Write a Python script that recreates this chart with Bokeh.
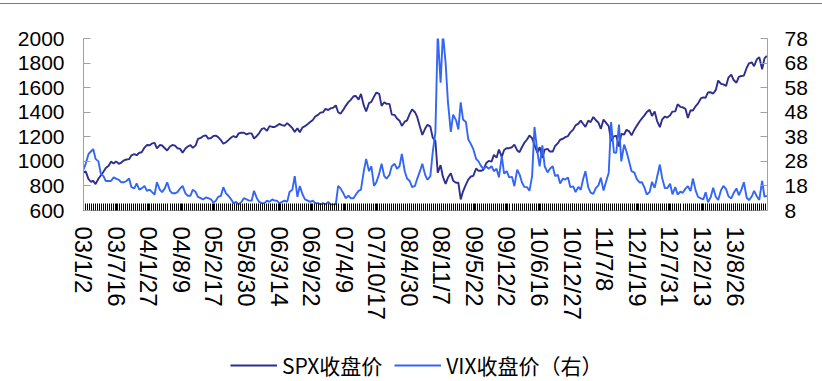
import pandas as pd
from bokeh.plotting import figure
from bokeh.layouts import column
from bokeh.models import Range1d, LinearAxis, FixedTicker, Legend, LegendItem, Div
from bokeh.embed import file_html
from bokeh.resources import INLINE

# ---------------- data ----------------
start = pd.Timestamp("2003-01-02")
end = pd.Timestamp("2014-03-05")

tick_dates = ["2003-01-02", "2003-07-16", "2004-01-27", "2004-08-09", "2005-02-17",
              "2005-08-30", "2006-03-14", "2006-09-22", "2007-04-09", "2007-10-17",
              "2008-04-30", "2008-11-07", "2009-05-22", "2009-12-02", "2010-06-16",
              "2010-12-27", "2011-07-08", "2012-01-19", "2012-07-31", "2013-02-13",
              "2013-08-26"]
tick_labels = ["03/1/2", "03/7/16", "04/1/27", "04/8/9", "05/2/17", "05/8/30", "06/3/14",
               "06/9/22", "07/4/9", "07/10/17", "08/4/30", "08/11/7", "09/5/22", "09/12/2",
               "10/6/16", "10/12/27", "11/7/8", "12/1/19", "12/7/31", "13/2/13", "13/8/26"]
spx_ticks = [600, 800, 1000, 1200, 1400, 1600, 1800, 2000]
vix_ticks = [8, 18, 28, 38, 48, 58, 68, 78]
series_names = ["SPX收盘价", "VIX收盘价（右）"]

# semi-monthly closes (1st and 15th of each month), 2003-01 .. 2014-03
spx = [
    909, 918, 856, 834, 841, 815, 858, 885, 916, 946, 964, 998, 983, 1000, 980, 990, 1008, 1015, 1018, 1049, 1058, 1050, 1070, 1074,
    1112, 1133, 1131, 1146, 1150, 1106, 1133, 1129, 1107, 1088, 1121, 1133, 1128, 1107, 1101, 1070, 1105, 1121, 1132, 1110, 1130, 1183, 1191, 1205,
    1212, 1185, 1190, 1206, 1210, 1197, 1172, 1143, 1156, 1173, 1194, 1206, 1194, 1227, 1234, 1233, 1220, 1228, 1228, 1186, 1207, 1230, 1265, 1270,
    1248, 1287, 1280, 1280, 1291, 1304, 1295, 1289, 1311, 1294, 1270, 1240, 1270, 1237, 1277, 1286, 1304, 1320, 1336, 1365, 1378, 1397, 1400, 1427,
    1418, 1431, 1438, 1456, 1400, 1388, 1421, 1452, 1482, 1501, 1530, 1532, 1503, 1549, 1455, 1406, 1474, 1484, 1527, 1560, 1549, 1452, 1481, 1468,
    1468, 1380, 1378, 1349, 1331, 1288, 1323, 1334, 1386, 1423, 1400, 1360, 1280, 1215, 1267, 1298, 1283, 1193, 1166, 907, 969, 873, 816, 868,
    903, 843, 826, 827, 690, 756, 811, 852, 877, 882, 942, 923, 923, 932, 987, 1004, 998, 1053, 1030, 1096, 1036, 1093, 1108, 1107,
    1115, 1136, 1089, 1075, 1115, 1150, 1178, 1211, 1187, 1135, 1070, 1115, 1027, 1096, 1102, 1080, 1080, 1125, 1146, 1176, 1184, 1197, 1206, 1236,
    1258, 1293, 1307, 1332, 1306, 1281, 1332, 1319, 1361, 1337, 1314, 1265, 1340, 1316, 1287, 1165, 1204, 1209, 1120, 1224, 1219, 1257, 1244, 1212,
    1258, 1289, 1324, 1350, 1374, 1402, 1419, 1370, 1405, 1330, 1278, 1342, 1365, 1356, 1375, 1405, 1407, 1465, 1444, 1440, 1427, 1353, 1416, 1413,
    1450, 1472, 1513, 1520, 1518, 1561, 1562, 1552, 1582, 1658, 1631, 1626, 1614, 1682, 1706, 1662, 1640, 1687, 1695, 1698, 1762, 1798, 1806, 1775,
    1832, 1848, 1750, 1838, 1859,
]
vix = [
    24.5, 27, 31, 32, 33, 29, 28, 23, 22, 20, 20, 20, 21.5, 21, 20.5, 19.5, 19.5, 20, 21, 17.5, 17, 19, 16.5, 17,
    18, 16, 16.5, 15.5, 14.5, 19.5, 16.5, 15.5, 17, 19.5, 16, 15, 15, 15.5, 17, 18, 15, 14, 14, 16.5, 15.5, 13.5, 13, 12.5,
    13.3, 13, 12.5, 11.2, 12, 13.5, 14, 17.5, 15, 14, 12.5, 11, 11.5, 10.5, 11.5, 13, 12.5, 12, 12, 16, 13, 11.5, 11, 11,
    12, 11.5, 12.5, 12, 12, 11, 11.5, 12, 11.5, 15.5, 16.5, 22, 13.5, 18, 14.5, 12.5, 12, 11.5, 12, 11, 11, 10.5, 11, 10.5,
    11.5, 10.5, 10.5, 10.5, 18, 17, 15, 13, 14, 13, 13, 14.5, 16, 16.5, 24, 29, 24, 26, 18, 19.5, 23, 27, 22, 21,
    22.5, 26, 27, 25, 26, 31, 24, 21, 20, 17.5, 18, 21, 24, 27, 22.5, 20.5, 22, 31.7, 39.8, 80, 60, 80, 68, 52,
    40, 47, 44.8, 41, 52, 45, 44, 37, 35, 33, 29, 28, 26, 25, 25.9, 25, 26, 24, 25, 21.5, 30, 23, 24, 21.5,
    21.7, 17.9, 24.6, 22.7, 19.5, 17.6, 17.5, 16, 22, 42, 32, 26, 34.5, 26, 23.5, 25, 26, 22, 22.5, 19, 21, 20.6, 21.4, 17.5,
    17.8, 15.5, 17.6, 16.4, 20.7, 24, 17.4, 15.3, 14.8, 17, 18.3, 21.3, 16.1, 19.5, 23.4, 44, 31.6, 31.5, 43, 28, 34.8, 32, 27.8, 24,
    23.4, 20.9, 19.4, 19.5, 17.3, 14.5, 15.5, 19.6, 17.2, 21.5, 26.7, 21.1, 17.1, 17.1, 18.9, 14.6, 17.5, 14.5, 15.7, 15.2, 16.9, 17.9, 15.9, 21,
    16, 13.5, 12.9, 12.5, 15.4, 11.3, 13.6, 17.3, 13.5, 12.3, 16.3, 18, 16.7, 13.8, 12.9, 15.1, 17, 14.2, 16.6, 19.5, 13.2, 12.2, 13.7, 16,
    13.7, 12.3, 20, 13.6, 14,
]

dates = pd.date_range("2003-01-01", periods=len(spx), freq="SMS")
x = [(d - start).days for d in dates]
total_days = (end - start).days
tick_pos = [(pd.Timestamp(d) - start).days for d in tick_dates]

SPX_COLOR = "#2D2F8F"
VIX_COLOR = "#3466F6"
AXIS_GREY = "#A0A0A0"
LINE_W = 1.9

# thin grey rule at the very top of the page
top_rule = Div(text="", width=822, height=4, margin=(0, 0, 0, 0),
               styles={"border-bottom": "1px solid #7A7A7A", "box-sizing": "border-box"})

p = figure(width=822, height=331, output_backend="svg", toolbar_location=None,
           x_range=Range1d(0, total_days), y_range=Range1d(600, 2000),
           min_border_left=83, min_border_right=55, min_border_top=34, min_border_bottom=125)
p.margin = (0, 0, 0, 0)
p.extra_y_ranges = {"vix": Range1d(8, 78)}
p.grid.visible = False
p.outline_line_color = None
p.background_fill_color = "white"
p.border_fill_color = "white"

# left axis
ya = p.yaxis[0]
ya.ticker = FixedTicker(ticks=spx_ticks)
ya.axis_line_color = AXIS_GREY
ya.major_tick_line_color = AXIS_GREY
ya.major_tick_in = 7
ya.major_tick_out = 0
ya.minor_tick_line_color = None
ya.major_label_text_font = "Liberation Sans"
ya.major_label_text_font_size = "21px"
ya.major_label_text_color = "black"
ya.major_label_standoff = 19

# right axis
ra = LinearAxis(y_range_name="vix", ticker=FixedTicker(ticks=vix_ticks))
ra.axis_line_color = AXIS_GREY
ra.major_tick_line_color = AXIS_GREY
ra.major_tick_in = 7
ra.major_tick_out = 0
ra.minor_tick_line_color = None
ra.major_label_text_font = "Liberation Sans"
ra.major_label_text_font_size = "21px"
ra.major_label_text_color = "black"
ra.major_label_standoff = 17
p.add_layout(ra, "right")

# bottom axis
xa = p.xaxis[0]
xa.ticker = FixedTicker(ticks=tick_pos, minor_ticks=list(range(0, total_days, 12)))
xa.major_label_overrides = {int(t): lab for t, lab in zip(tick_pos, tick_labels)}
xa.major_label_orientation = "vertical"
xa.axis_line_color = AXIS_GREY
xa.major_tick_line_color = "black"
xa.minor_tick_line_color = "black"
xa.major_tick_in = 7
xa.major_tick_out = 0
xa.minor_tick_in = 7
xa.minor_tick_out = 0
xa.major_label_text_font = "Liberation Sans"
xa.major_label_text_font_size = "24px"
xa.major_label_text_color = "black"
xa.major_label_standoff = 16

p.line(x, spx, line_color=SPX_COLOR, line_width=LINE_W)
p.line(x, vix, line_color=VIX_COLOR, line_width=LINE_W, y_range_name="vix")

# legend strip underneath the chart (its series lie outside its own range,
# so only the legend itself is visible here)
lg = figure(width=822, height=46, output_backend="svg", toolbar_location=None,
            x_range=Range1d(0, total_days), y_range=Range1d(-2, -1),
            x_axis_location=None, y_axis_location=None,
            min_border_left=83, min_border_right=55, min_border_top=0, min_border_bottom=0)
lg.margin = (0, 0, 0, 0)
lg.grid.visible = False
lg.outline_line_color = None
r1 = lg.line(x, spx, line_color=SPX_COLOR, line_width=2)
r2 = lg.line(x, vix, line_color=VIX_COLOR, line_width=2)
legend = Legend(items=[LegendItem(label=series_names[0], renderers=[r1]),
                       LegendItem(label=series_names[1], renderers=[r2])],
                location=(147, 1), orientation="horizontal")
legend.label_text_font = "Noto Sans CJK SC"
legend.label_text_font_size = "21px"
legend.label_text_color = "black"
legend.glyph_width = 47
legend.glyph_height = 20
legend.label_standoff = 5
legend.spacing = 12
legend.padding = 0
legend.margin = 0
legend.border_line_alpha = 0
legend.background_fill_alpha = 0
lg.add_layout(legend, "center")

layout = column(top_rule, p, lg, spacing=0)
open("out.html", "w").write(file_html(layout, INLINE))
